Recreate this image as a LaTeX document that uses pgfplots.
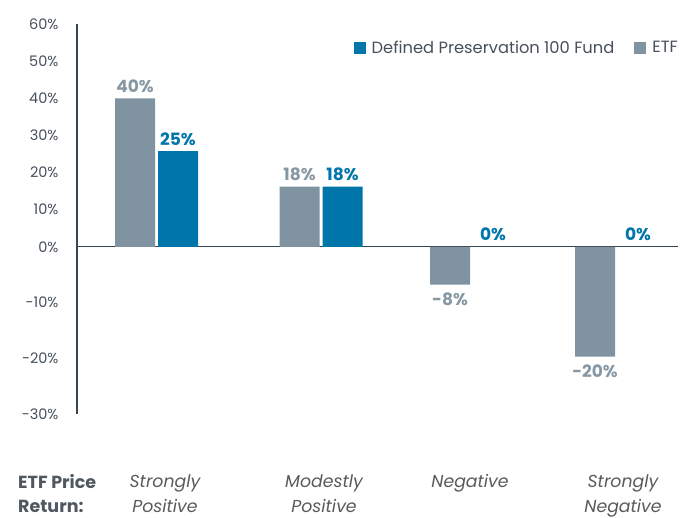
\documentclass[border=0pt]{standalone}
\usepackage{fontspec}
\setmainfont{Poppins}
\usepackage{pgfplots}
\pgfplotsset{compat=1.18}
\definecolor{etfgray}{RGB}{128,147,161}
\definecolor{etflabel}{RGB}{135,152,165}
\definecolor{fundblue}{RGB}{0,117,169}
\definecolor{axisdark}{RGB}{59,69,80}
\definecolor{ticktext}{RGB}{70,80,92}
\definecolor{cattext}{RGB}{90,90,90}
\begin{document}
\begin{tikzpicture}
\useasboundingbox (0pt,0pt) rectangle (683pt,518pt);
\begin{axis}[
  at={(77pt,104pt)}, anchor=south west,
  scale only axis, width=601pt, height=390pt,
  xmin=77, xmax=678, ymin=-30, ymax=60,
  y coord trafo/.code={\pgfmathparse{#1<0 ? 1.5*#1 : #1}},
  y coord inv trafo/.code={\pgfmathparse{#1<0 ? #1/1.5 : #1}},
  axis y line*=left, axis x line*=bottom,
  y axis line style={draw=axisdark, line width=1.3pt},
  x axis line style={draw=none},
  major tick length=0pt,
  ytick={-30,-20,-10,0,10,20,30,40,50,60},
  yticklabels={-30\%,-20\%,-10\%,0\%,10\%,20\%,30\%,40\%,50\%,60\%},
  yticklabel style={font=\fontsize{14.5}{18}\selectfont, text=ticktext, xshift=-15pt},
  extra y ticks={0}, extra y tick labels={},
  extra y tick style={grid=major, major grid style={draw=axisdark, line width=1pt}},
  xtick={165,324,470,623},
  xticklabels={{Strongly\\Positive},{Modestly\\Positive},{Negative},{Strongly\\Negative}},
  xticklabel style={font=\itshape\fontsize{17.3}{25.5}\selectfont, text=cattext, align=center, anchor=north, yshift=-57pt},
  legend style={at={(1.0033,0.9385)}, anchor=east, draw=none, fill=none, inner sep=0pt,
    font=\fontsize{16.3}{19}\selectfont, text=ticktext,
    /tikz/every even column/.append style={column sep=18pt}},
  legend columns=2, reverse legend,
  legend image code/.code={\fill[#1] (0pt,-6pt) rectangle (12pt,6pt); \path (16pt,0pt);},
  nodes near coords, point meta=explicit symbolic,
  every node near coord/.append style={font=\bfseries\fontsize{17}{20}\selectfont, inner sep=3pt},
]
\addplot[ybar, bar width=40pt, bar shift=-21.5pt, fill=etfgray, draw=none,
  every node near coord/.append style={text=etflabel, xshift=-21.5pt, yshift=2.5pt}]
coordinates {(156.5,40) [40\%] (321,16.2) [18\%]};
\addlegendentry{ETF}
\addplot[ybar, bar width=40pt, bar shift=21.5pt, fill=fundblue, draw=none,
  every node near coord/.append style={text=fundblue, xshift=21.5pt, yshift=2.5pt}]
coordinates {(156.5,25.8) [25\%] (321,16.2) [18\%] (471.5,0) [0\%] (616.5,0) [0\%]};
\addlegendentry{Defined Preservation 100 Fund}
\addplot[ybar, bar width=40pt, bar shift=-21.5pt, fill=etfgray, draw=none, forget plot,
  every node near coord/.append style={text=etflabel, anchor=north, xshift=-21.5pt, yshift=-5pt}]
coordinates {(471.5,-6.8) [-8\%] (616.5,-19.7) [-20\%]};
\end{axis}
\node[anchor=north west, align=left, font=\bfseries\fontsize{17.5}{24}\selectfont, text=axisdark!90!white, inner sep=0pt]
  at (18pt,44pt) {ETF Price\\Return:};
\end{tikzpicture}
\end{document}
